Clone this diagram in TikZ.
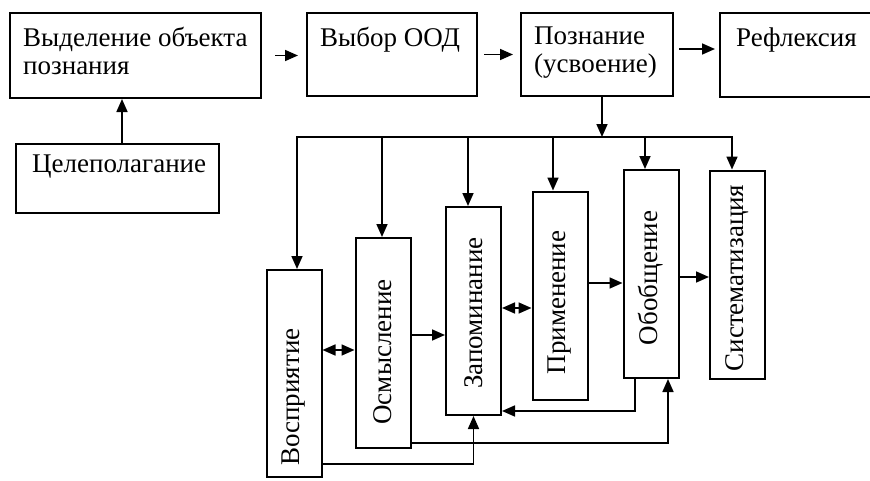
\documentclass[tikz,border=0pt]{standalone}
\usepackage{fontspec}
\setmainfont{Liberation Serif}
\usepackage{graphicx}
\usetikzlibrary{arrows.meta}

% rotated text inside the tall boxes, #1 moves it up or down
\newcommand{\uptext}[2][0pt]{\raisebox{#1}[0pt][0pt]{\rotatebox{90}{\makebox[0pt]{#2}}}}

\tikzset{
  box/.style={draw, line width=2pt, inner sep=0pt, anchor=north west},
  vbox/.style={draw, line width=2pt, inner sep=0pt, minimum width=55pt, minimum height=208pt},
  txt/.style={anchor=north west, align=left, inner sep=0pt, xshift=14pt, yshift=-15pt},
  arr/.style={line width=1.7pt, -{Triangle[length=13pt,width=11pt]}},
  dbl/.style={line width=1.7pt, {Triangle[length=13pt,width=11pt]}-{Triangle[length=13pt,width=11pt]}},
}

\begin{document}
\begin{tikzpicture}[x=1pt, y=-1pt, font=\fontsize{27}{28}\selectfont]
        \useasboundingbox (0,0) rectangle (870,480);

        % top row
        \node[box, minimum width=251pt, minimum height=85pt,
              label={[txt]north west:{Выделение объекта\\познания}}] (obj) at (9,12) {};
        \node[box, minimum width=170pt, minimum height=83pt,
              label={[txt]north west:{Выбор ООД}}] (ood) at (306,12) {};
        \node[box, minimum width=152pt, minimum height=83pt,
              label={[txt]north west:{Познание\\(усвоение)}}] (pozn) at (520,12) {};
        % this box runs off the right edge
        \node[box, draw=none, minimum width=220pt, minimum height=82pt,
              label={[txt, xshift=2pt]north west:{Рефлексия}}] (refl) at (720,13) {};
        \draw[line width=2pt] (refl.north east) -- (refl.north west) -- (refl.south west) -- (refl.south east);
        \draw[arr, shorten <=13pt, shorten >=8pt] (obj.east) -- (obj.east -| ood.west);
        \draw[arr, shorten <=6pt, shorten >=7pt] (ood.east) -- (ood.east -| pozn.west);
        \draw[arr, shorten <=5pt, shorten >=5pt] ([yshift=5.5pt]pozn.east) -- ([yshift=5.5pt]pozn.east -| refl.west);

        % goal setting
        \node[box, minimum width=203pt, minimum height=69pt,
              label={[txt, xshift=3pt, yshift=3pt]north west:{Целеполагание}}] (goal) at (15,143) {};
        \draw[arr] ([xshift=4.5pt]goal.north) -- ([xshift=4.5pt]goal.north |- obj.south);

        % stages of cognition
        \node[vbox, minimum height=207pt] (per) at (294,373.5) {\uptext[-23.5pt]{Восприятие}};
        \node[vbox, minimum height=210pt] (osm) at (383,343) {\uptext[-9pt]{Осмысление}};
        \node[vbox] (zap) at (473.5,311) {\uptext[-2pt]{Запоминание}};
        \node[vbox] (prim) at (560,295.5) {\uptext[-7pt]{Применение}};
        \node[vbox] (obob) at (651,274) {\uptext[-4pt]{Обобщение}};
        \node[vbox] (sys) at (737.5,274.5) {\uptext[-3.5pt]{Систематизация}};

        % distribution line
        \coordinate (bus) at (602,137);
        \draw[arr] (pozn.south -| bus) -- (bus);
        \draw[dbl] ([xshift=3pt]per.north) |- (bus) -| ([xshift=-5.5pt]sys.north);
        \foreach \n/\dx in {osm/-1,zap/-5.5,prim/-7,obob/-6}
            \draw[arr] ([xshift=\dx pt]\n.north |- bus) -- ([xshift=\dx pt]\n.north);

        % links between stages
        \draw[dbl] ([yshift=23.5pt]per.east) -- ([yshift=23.5pt]per.east -| osm.west);
        \draw[arr] ([yshift=8pt]osm.east) -- ([yshift=8pt]osm.east -| zap.west);
        \draw[dbl] ([yshift=3pt]zap.east) -- ([yshift=3pt]zap.east -| prim.west);
        \draw[arr] ([yshift=12.5pt]prim.east) -- ([yshift=12.5pt]prim.east -| obob.west);
        \draw[arr] ([yshift=-3pt]obob.east) -- ([yshift=-3pt]obob.east -| sys.west);

        % feedback
        \draw[arr] ([xshift=-16pt]obob.south) |- ([yshift=5pt]zap.south east);
        \draw[arr] ([yshift=6pt]osm.south east) -| ([xshift=17pt]obob.south);
        \draw[arr] ([yshift=14pt]per.south east) -| (zap.south);
\end{tikzpicture}
\end{document}
